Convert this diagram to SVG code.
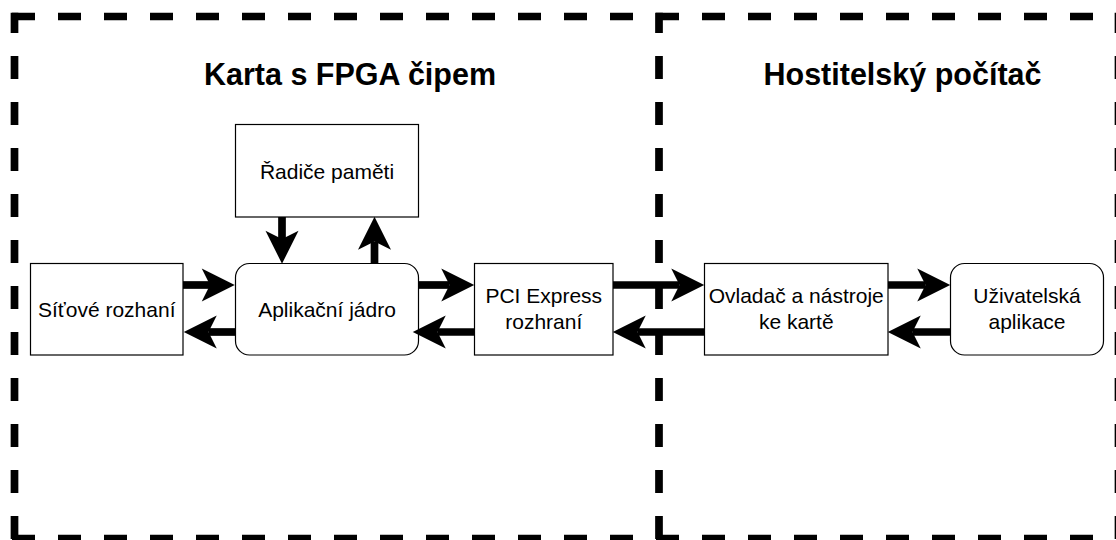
<svg xmlns="http://www.w3.org/2000/svg" width="1116" height="540" viewBox="0 0 1116 540">
  <defs>
    <style>
      .frame { stroke: #000; stroke-width: 7.7; stroke-dasharray: 23 23; fill: none; stroke-linecap: butt; }
      .vert { stroke-dashoffset: 2.65; }
      .box { fill: #fff; stroke: #000; stroke-width: 1.2; }
      .lbl { font-family: "Liberation Sans", Arial, sans-serif; font-size: 21px; fill: #000; text-anchor: middle; }
      .title { font-family: "Liberation Sans", Arial, sans-serif; font-size: 30.5px; font-weight: bold; fill: #000; text-anchor: middle; }
      .arr { stroke: #000; stroke-width: 7.7; fill: none; marker-end: url(#head); }
    </style>
    <marker id="head" markerUnits="userSpaceOnUse" markerWidth="34" markerHeight="34" refX="8.25" refY="0" orient="auto" overflow="visible">
      <path d="M0,-16.5 L33,0 L0,16.5 L8.25,0 Z" fill="#000" stroke="none"/>
    </marker>
  </defs>

  <g id="frames">
    <line class="frame" x1="12" y1="16.5" x2="1120" y2="16.5"/>
    <line class="frame" x1="12" y1="538.5" x2="1120" y2="538.5"/>
    <line class="frame vert" x1="14.5" y1="12.65" x2="14.5" y2="542.35"/>
    <line class="frame vert" x1="659" y1="12.65" x2="659" y2="542.35"/>
    <line class="frame vert" x1="1118.5" y1="12.65" x2="1118.5" y2="542.35"/>
  </g>

  <g id="title-fpga">
    <text class="title" x="350" y="85">Karta s FPGA čipem</text>
  </g>
  <g id="title-host">
    <text class="title" x="902.5" y="85">Hostitelský počítač</text>
  </g>

  <g id="radice-pameti">
    <rect class="box" x="235.5" y="124.5" width="183" height="92.5"/>
    <text class="lbl" x="327" y="178.5">Řadiče paměti</text>
  </g>
  <g id="sitove-rozhrani">
    <rect class="box" x="30.5" y="263.5" width="152.5" height="91.5"/>
    <text class="lbl" x="106.75" y="316.5">Síťové rozhaní</text>
  </g>
  <g id="aplikacni-jadro">
    <rect class="box" x="235.5" y="263.5" width="183" height="91.5" rx="14" ry="14"/>
    <text class="lbl" x="327" y="316.5">Aplikační jádro</text>
  </g>
  <g id="pci-express">
    <rect class="box" x="474.5" y="263.5" width="138.5" height="91.5"/>
    <text class="lbl" x="543.75" y="303">PCI Express</text>
    <text class="lbl" x="543.75" y="329">rozhraní</text>
  </g>
  <g id="ovladac">
    <rect class="box" x="704.5" y="263.5" width="183.5" height="91.5"/>
    <text class="lbl" x="796.25" y="303">Ovladač a nástroje</text>
    <text class="lbl" x="796.25" y="329">ke kartě</text>
  </g>
  <g id="uzivatelska-aplikace">
    <rect class="box" x="950.5" y="263.5" width="153" height="91.5" rx="14" ry="14"/>
    <text class="lbl" x="1027" y="303">Uživatelská</text>
    <text class="lbl" x="1027" y="329">aplikace</text>
  </g>

  <g id="connectors">
    <line class="arr" x1="183" y1="285" x2="210" y2="285"/>
    <line class="arr" x1="235.5" y1="332" x2="208.5" y2="332"/>
    <line class="arr" x1="282" y1="217" x2="282" y2="239"/>
    <line class="arr" x1="374.5" y1="263.5" x2="374.5" y2="241.5"/>
    <line class="arr" x1="418.5" y1="285" x2="449.5" y2="285"/>
    <line class="arr" x1="474.5" y1="332" x2="437.5" y2="332"/>
    <line class="arr" x1="613" y1="285" x2="679.5" y2="285"/>
    <line class="arr" x1="704.5" y1="332" x2="637.5" y2="332"/>
    <line class="arr" x1="888" y1="285" x2="925.5" y2="285"/>
    <line class="arr" x1="950.5" y1="332" x2="912.5" y2="332"/>
  </g>
</svg>
